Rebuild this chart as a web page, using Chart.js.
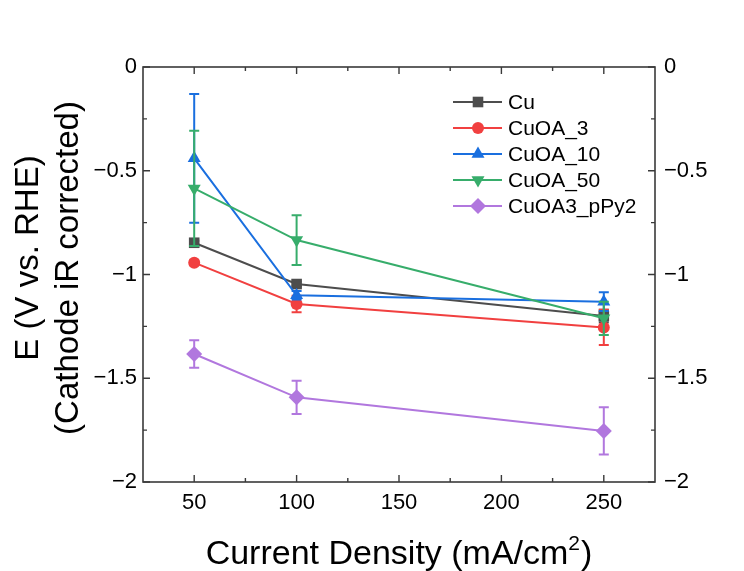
<!DOCTYPE html>
<html><head><meta charset="utf-8">
<script src="https://cdn.jsdelivr.net/npm/chart.js@4.4.1/dist/chart.umd.min.js"></script>
<style>html,body{margin:0;padding:0;background:#fff}canvas{display:block}</style>
</head><body>
<canvas id="c" width="744" height="571"></canvas>
<script>
// ---- data ----
const currentDensity = [50, 100, 250];
const seriesNames = ['Cu', 'CuOA_3', 'CuOA_10', 'CuOA_50', 'CuOA3_pPy2'];
const cuE        = [-0.847, -1.046, -1.200];
const cuErr      = [0.010, 0.012, 0.030];
const cuoa3E     = [-0.943, -1.142, -1.255];
const cuoa3Err   = [0.012, 0.040, 0.085];
const cuoa10E    = [-0.440, -1.100, -1.131];
const cuoa10Err  = [0.310, 0.020, 0.045];
const cuoa50E    = [-0.585, -0.834, -1.211];
const cuoa50Err  = [0.278, 0.120, 0.080];
const pPyE       = [-1.383, -1.592, -1.754];
const pPyErr     = [0.066, 0.080, 0.114];
const xTickValues = [50, 100, 150, 200, 250];
const xMinorTickValues = [75, 125, 175, 225];
const yTickValues = [0, -0.5, -1, -1.5, -2];
const yMinorTickValues = [-0.25, -0.75, -1.25, -1.75];
const xTitle = 'Current Density (mA/cm';
const xTitleSup = '2';
const xTitleEnd = ')';
const yTitleLines = ['E (V vs. RHE)', '(Cathode iR corrected)'];

const seriesValues = [cuE, cuoa3E, cuoa10E, cuoa50E, pPyE];
const seriesErrors = [cuErr, cuoa3Err, cuoa10Err, cuoa50Err, pPyErr];

// ---- styles ----
const FONT = '"Liberation Sans", Arial, Helvetica, sans-serif';
const colors = ['#4d4d4d', '#F14040', '#1A6FDF', '#37AD6B', '#B177DE'];
const markers = [
  {style: 'rect', r: 7.5, rot: 0},
  {style: 'circle', r: 6, rot: 0},
  {style: 'triangle', r: 7.5, rot: 0},
  {style: 'triangle', r: 7.5, rot: 180},
  {style: 'rectRot', r: 8, rot: 0}
];
const AXIS_COLOR = '#3a3a3a';

const fmt = v => (v < 0 ? '\u2212' + String(Math.abs(v)) : String(v));

function drawMarker(ctx, m, color, x, y) {
  ctx.save();
  ctx.fillStyle = color;
  ctx.beginPath();
  const r = m.r;
  if (m.style === 'circle') {
    ctx.arc(x, y, r, 0, Math.PI * 2);
  } else if (m.style === 'rect') {
    const s = r * Math.SQRT1_2;
    ctx.rect(x - s, y - s, 2 * s, 2 * s);
  } else if (m.style === 'rectRot') {
    ctx.moveTo(x, y - r); ctx.lineTo(x + r, y); ctx.lineTo(x, y + r); ctx.lineTo(x - r, y);
  } else if (m.style === 'triangle') {
    const a0 = (m.rot * Math.PI / 180) - Math.PI / 2;
    for (let k = 0; k < 3; k++) {
      const a = a0 + k * 2 * Math.PI / 3;
      const px = x + Math.cos(a) * r, py = y + Math.sin(a) * r;
      if (k === 0) ctx.moveTo(px, py); else ctx.lineTo(px, py);
    }
  }
  ctx.closePath();
  ctx.fill();
  ctx.restore();
}

const bgPlugin = {
  id: 'bg',
  beforeDraw(chart) {
    const ctx = chart.ctx;
    ctx.save(); ctx.fillStyle = '#fff'; ctx.fillRect(0, 0, chart.width, chart.height); ctx.restore();
  }
};

const errorBarPlugin = {
  id: 'errbars',
  beforeDatasetDraw(chart, args) {
    const i = args.index;
    const ctx = chart.ctx;
    const xs = chart.scales.x, ys = chart.scales.y;
    ctx.save();
    ctx.strokeStyle = colors[i];
    ctx.lineWidth = 2;
    currentDensity.forEach((xv, j) => {
      const v = seriesValues[i][j], e = seriesErrors[i][j];
      const px = xs.getPixelForValue(xv);
      const pTop = ys.getPixelForValue(v + e), pBot = ys.getPixelForValue(v - e);
      ctx.beginPath();
      ctx.moveTo(px, pTop); ctx.lineTo(px, pBot);
      ctx.moveTo(px - 5, pTop); ctx.lineTo(px + 5, pTop);
      ctx.moveTo(px - 5, pBot); ctx.lineTo(px + 5, pBot);
      ctx.stroke();
    });
    ctx.restore();
  }
};

const framePlugin = {
  id: 'frame',
  afterDraw(chart) {
    const ctx = chart.ctx;
    const a = chart.chartArea;
    const xs = chart.scales.x, ys = chart.scales.y;
    ctx.save();
    ctx.strokeStyle = AXIS_COLOR;
    ctx.lineWidth = 1.6;
    ctx.strokeRect(a.left, a.top, a.right - a.left, a.bottom - a.top);
    ctx.lineWidth = 1.4;
    ctx.beginPath();
    const MAJ = 7, MIN = 4;
    xTickValues.forEach(v => {
      const p = xs.getPixelForValue(v);
      ctx.moveTo(p, a.bottom); ctx.lineTo(p, a.bottom - MAJ);
      ctx.moveTo(p, a.top); ctx.lineTo(p, a.top + MAJ);
    });
    xMinorTickValues.forEach(v => {
      const p = xs.getPixelForValue(v);
      ctx.moveTo(p, a.bottom); ctx.lineTo(p, a.bottom - MIN);
      ctx.moveTo(p, a.top); ctx.lineTo(p, a.top + MIN);
    });
    yTickValues.forEach(v => {
      const p = ys.getPixelForValue(v);
      ctx.moveTo(a.left, p); ctx.lineTo(a.left + MAJ, p);
      ctx.moveTo(a.right, p); ctx.lineTo(a.right - MAJ, p);
    });
    yMinorTickValues.forEach(v => {
      const p = ys.getPixelForValue(v);
      ctx.moveTo(a.left, p); ctx.lineTo(a.left + MIN, p);
      ctx.moveTo(a.right, p); ctx.lineTo(a.right - MIN, p);
    });
    ctx.stroke();

    // legend
    ctx.font = '21px ' + FONT;
    ctx.textBaseline = 'middle';
    ctx.textAlign = 'left';
    seriesNames.forEach((name, i) => {
      const y = 102 + 26 * i;
      ctx.strokeStyle = colors[i];
      ctx.lineWidth = 2;
      ctx.beginPath(); ctx.moveTo(453, y); ctx.lineTo(502, y); ctx.stroke();
      drawMarker(ctx, markers[i], colors[i], 478, y);
      ctx.fillStyle = '#000';
      ctx.fillText(name, 508, y + 1);
    });

    // x title
    ctx.fillStyle = '#000';
    ctx.textBaseline = 'alphabetic';
    const fBig = '34px ' + FONT, fSmall = '21px ' + FONT;
    ctx.font = fBig;
    const w1 = ctx.measureText(xTitle).width, w3 = ctx.measureText(xTitleEnd).width;
    ctx.font = fSmall;
    const w2 = ctx.measureText(xTitleSup).width;
    let x0 = (a.left + a.right) / 2 - (w1 + w2 + w3 + 1) / 2;
    const base = 564;
    ctx.font = fBig; ctx.fillText(xTitle, x0, base); x0 += w1;
    ctx.font = fSmall; ctx.fillText(xTitleSup, x0, base - 14); x0 += w2 + 1;
    ctx.font = fBig; ctx.fillText(xTitleEnd, x0, base);

    // y title (two rotated lines)
    ctx.font = '33px ' + FONT;
    ctx.textAlign = 'center';
    [[yTitleLines[0], 38, 258], [yTitleLines[1], 78, 268]].forEach(([t, bx, cy]) => {
      ctx.save();
      ctx.translate(bx, cy);
      ctx.rotate(-Math.PI / 2);
      ctx.fillText(t, 0, 0);
      ctx.restore();
    });
    ctx.restore();
  }
};

const tickFont = {family: FONT, size: 22};

new Chart(document.getElementById('c').getContext('2d'), {
  type: 'line',
  data: {
    datasets: seriesNames.map((name, i) => ({
      label: name,
      data: currentDensity.map((x, j) => ({x: x, y: seriesValues[i][j]})),
      borderColor: colors[i],
      backgroundColor: colors[i],
      borderWidth: 2,
      pointStyle: markers[i].style,
      pointRadius: markers[i].r,
      pointRotation: markers[i].rot,
      pointBorderWidth: 0,
      pointBackgroundColor: colors[i],
      pointBorderColor: colors[i],
      pointHoverRadius: markers[i].r,
      tension: 0,
      fill: false,
      clip: false,
      order: 5 - i
    }))
  },
  options: {
    responsive: false,
    animation: false,
    devicePixelRatio: 1,
    events: [],
    layout: {padding: {top: 67, left: 0, right: 0, bottom: 0}},
    plugins: {legend: {display: false}, tooltip: {enabled: false}, title: {display: false}},
    scales: {
      x: {
        type: 'linear', position: 'bottom', min: 25, max: 275,
        grid: {display: false, drawTicks: false}, border: {display: false},
        afterBuildTicks: s => { s.ticks = xTickValues.map(v => ({value: v})); },
        afterFit: s => { s.height = 89; },
        ticks: {font: tickFont, color: '#000', padding: 8, maxRotation: 0, autoSkip: false, callback: v => fmt(v)}
      },
      y: {
        type: 'linear', position: 'left', min: -2, max: 0,
        grid: {display: false, drawTicks: false}, border: {display: false},
        afterBuildTicks: s => { s.ticks = yTickValues.map(v => ({value: v})); },
        afterFit: s => { s.width = 143; },
        ticks: {font: tickFont, color: '#000', padding: 6, autoSkip: false, callback: v => fmt(v)}
      },
      y2: {
        type: 'linear', position: 'right', min: -2, max: 0,
        grid: {display: false, drawTicks: false}, border: {display: false},
        afterBuildTicks: s => { s.ticks = yTickValues.map(v => ({value: v})); },
        afterFit: s => { s.width = 89; },
        ticks: {font: tickFont, color: '#000', padding: 9, autoSkip: false, callback: v => fmt(v)}
      }
    }
  },
  plugins: [bgPlugin, errorBarPlugin, framePlugin]
});
</script>
</body></html>
